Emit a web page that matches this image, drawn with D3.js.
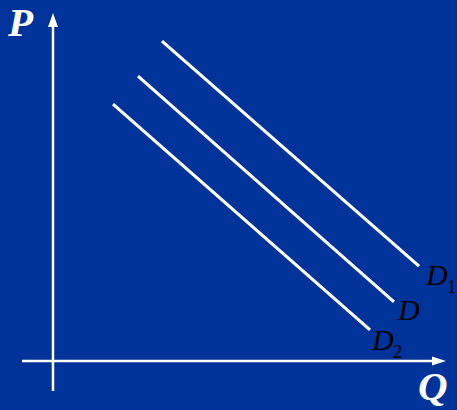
<!DOCTYPE html>
<html><head><meta charset="utf-8">
<script src="https://cdn.jsdelivr.net/npm/d3@7"></script>
<style>html,body{margin:0;padding:0;background:#003399;}svg{display:block;}</style>
</head><body>
<script>
// Demand curves: [Q, P] endpoints in chart units
const curveNames = ["D1", "D", "D2"];
const curveStart = [[27.25, 91.4], [21.25, 81.4], [15, 73.4]];
const curveEnd   = [[91.5, 27.1], [85.25, 16.9], [79.25, 8.9]];
const axisLabels = ["P", "Q"];

const W = 457, H = 410;
const svg = d3.select("body").append("svg").attr("width", W).attr("height", H);
svg.append("rect").attr("width", W).attr("height", H).attr("fill", "#003399");

const x = d3.scaleLinear().domain([0, 100]).range([53, 453]);
const y = d3.scaleLinear().domain([0, 100]).range([361, 11]);

// axes
svg.append("line").attr("x1", x(0)).attr("x2", x(0)).attr("y1", 391).attr("y2", 24)
  .attr("stroke", "#fff").attr("stroke-width", 2.5);
svg.append("path").attr("d", `M${x(0)},13 L${x(0)-5},27 L${x(0)+5},27 Z`).attr("fill", "#fff");
svg.append("line").attr("x1", 22).attr("x2", 436).attr("y1", y(0)).attr("y2", y(0))
  .attr("stroke", "#fff").attr("stroke-width", 2.5);
svg.append("path").attr("d", `M446,${y(0)} L432,${y(0)-4.5} L432,${y(0)+4.5} Z`).attr("fill", "#fff");

// curves
curveNames.forEach((n, i) => {
  svg.append("line")
    .attr("x1", x(curveStart[i][0])).attr("y1", y(curveStart[i][1]))
    .attr("x2", x(curveEnd[i][0])).attr("y2", y(curveEnd[i][1]))
    .attr("stroke", "#fff").attr("stroke-width", 3.2);
});

// curve labels
const labelPos = [[426, 285], [398, 320], [372, 350]];
curveNames.forEach((n, i) => {
  const t = svg.append("text").attr("x", labelPos[i][0]).attr("y", labelPos[i][1])
    .attr("font-family", "Liberation Serif, Times New Roman, serif")
    .attr("font-style", "italic").attr("font-size", 30).attr("fill", "#000");
  t.append("tspan").text("D");
  if (n.length > 1) {
    t.append("tspan").attr("font-style", "normal").attr("font-size", 19)
      .attr("dx", -1).attr("dy", 8).text(n.slice(1));
  }
});

// axis labels
svg.append("text").attr("x", 8).attr("y", 36).text(axisLabels[0])
  .attr("font-family", "Liberation Serif, Times New Roman, serif")
  .attr("font-style", "italic").attr("font-weight", "bold").attr("font-size", 41).attr("fill", "#fff");
svg.append("text").attr("x", 418).attr("y", 400).text(axisLabels[1])
  .attr("font-family", "Liberation Serif, Times New Roman, serif")
  .attr("font-style", "italic").attr("font-weight", "bold").attr("font-size", 41).attr("fill", "#fff");
</script>
</body></html>
